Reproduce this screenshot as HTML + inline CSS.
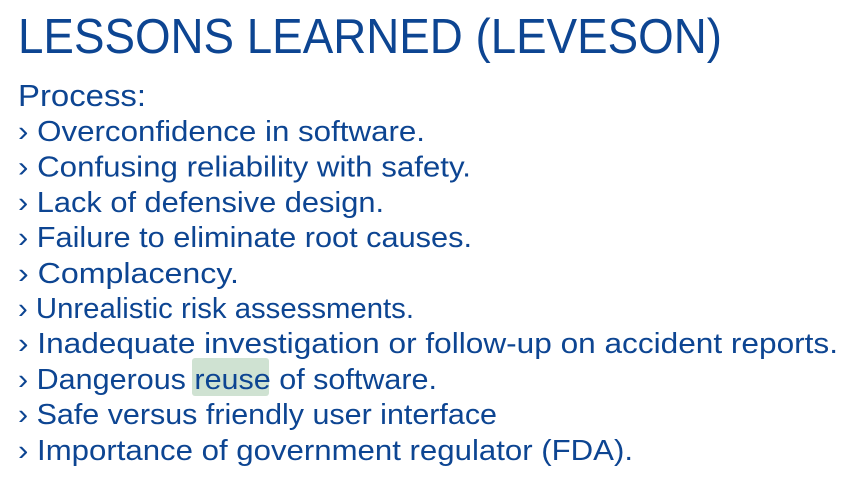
<!DOCTYPE html>
<html><head><meta charset="utf-8"><style>
html,body{margin:0;padding:0;background:#fff;}
svg{display:block;}
text{font-family:"Liberation Sans",sans-serif;fill:#0d4592;}
</style></head><body>
<svg width="859" height="477" viewBox="0 0 859 477">
<rect x="192" y="358" width="77" height="38" rx="3" fill="#cfe2d2"/>
<text x="18" y="53" font-size="49" textLength="704" lengthAdjust="spacingAndGlyphs">LESSONS LEARNED (LEVESON)</text>
<text x="18" y="106" font-size="31" textLength="128" lengthAdjust="spacingAndGlyphs">Process:</text>
<g>
<text x="18" y="141" font-size="29" textLength="407" lengthAdjust="spacingAndGlyphs">› Overconfidence in software.</text>
<text x="18" y="176.5" font-size="29" textLength="453" lengthAdjust="spacingAndGlyphs">› Confusing reliability with safety.</text>
<text x="18" y="212" font-size="29" textLength="366" lengthAdjust="spacingAndGlyphs">› Lack of defensive design.</text>
<text x="18" y="247" font-size="29" textLength="454" lengthAdjust="spacingAndGlyphs">› Failure to eliminate root causes.</text>
<text x="18" y="283" font-size="29" textLength="221" lengthAdjust="spacingAndGlyphs">› Complacency.</text>
<text x="18" y="318" font-size="29" textLength="396" lengthAdjust="spacingAndGlyphs">› Unrealistic risk assessments.</text>
<text x="18" y="353" font-size="29" textLength="820" lengthAdjust="spacingAndGlyphs">› Inadequate investigation or follow-up on accident reports.</text>
<text x="18" y="389" font-size="29" textLength="419" lengthAdjust="spacingAndGlyphs">› Dangerous reuse of software.</text>
<text x="18" y="424" font-size="29" textLength="479" lengthAdjust="spacingAndGlyphs">› Safe versus friendly user interface</text>
<text x="18" y="460" font-size="29" textLength="615" lengthAdjust="spacingAndGlyphs">› Importance of government regulator (FDA).</text>
</g>
</svg>
</body></html>
